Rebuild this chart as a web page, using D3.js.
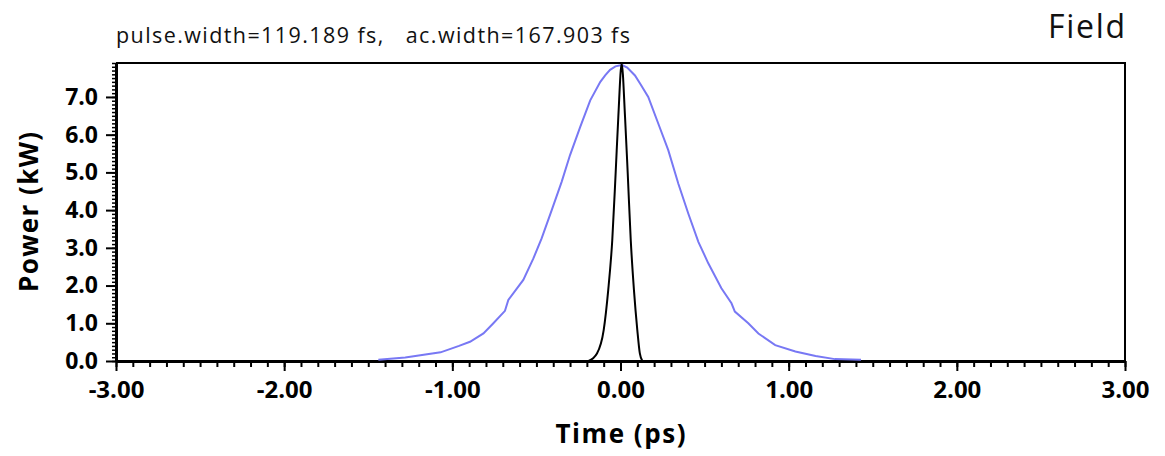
<!DOCTYPE html>
<html>
<head>
<meta charset="utf-8">
<script src="https://cdn.jsdelivr.net/npm/d3@7"></script>
<style>
  body { margin: 0; background: #fff; }
  svg { display: block; font-family: "Open Sans", "Noto Sans", sans-serif; }
</style>
</head>
<body>
<div id="chart"></div>
<script>
// Autocorrelation trace (blue)
const acTime  = [-1.44, -1.28, -1.19, -1.07, -0.96, -0.895, -0.815, -0.756, -0.687, -0.667,
                 -0.578, -0.518, -0.469, -0.409, -0.35, -0.30, -0.24, -0.18, -0.12, -0.09,
                 -0.062, -0.03, 0.0, 0.007, 0.04, 0.086, 0.12, 0.165, 0.225, 0.284,
                 0.344, 0.403, 0.463, 0.522, 0.60, 0.66, 0.68, 0.76, 0.82, 0.92,
                 1.04, 1.16, 1.275, 1.43];
const acPower = [0.03, 0.09, 0.15, 0.23, 0.40, 0.51, 0.73, 1.00, 1.33, 1.62,
                 2.15, 2.72, 3.25, 4.00, 4.75, 5.46, 6.20, 6.91, 7.40, 7.58,
                 7.72, 7.81, 7.84, 7.85, 7.78, 7.57, 7.33, 7.00, 6.29, 5.59,
                 4.70, 3.91, 3.16, 2.59, 1.93, 1.53, 1.31, 1.00, 0.73, 0.42,
                 0.25, 0.13, 0.05, 0.03];

// Pulse (black)
const pulseTime  = [-0.19, -0.14, -0.10, -0.073, -0.049, -0.029, -0.013, 0.007,
                    0.027, 0.043, 0.061, 0.08, 0.10, 0.115, 0.13];
const pulsePower = [0.0, 0.2, 0.82, 1.88, 3.2, 4.97, 6.47, 7.88,
                    6.47, 4.97, 3.2, 1.88, 0.82, 0.2, 0.0];

const xTicks = [-3, -2, -1, 0, 1, 2, 3];
const yTicks = [0, 1, 2, 3, 4, 5, 6, 7];
const xDomain = [-3, 3];
const yDomain = [0, 7.9];

const titleText = "pulse.width=119.189 fs,\u00a0\u00a0 ac.width=167.903 fs";
const cornerText = "Field";

const width = 1165, height = 456;
const margin = { top: 63, right: 40, bottom: 95, left: 116 };
const font = "'Open Sans', 'Noto Sans', sans-serif";

const svg = d3.select("#chart").append("svg")
    .attr("width", width)
    .attr("height", height);

const x = d3.scaleLinear().domain(xDomain).range([margin.left, width - margin.right]);
const y = d3.scaleLinear().domain(yDomain).range([height - margin.bottom, margin.top]);

// frame: top and right
svg.append("path")
    .attr("d", `M${x(-3)},${y(7.9)}H${x(3)}V${y(0)}`)
    .attr("fill", "none")
    .attr("stroke", "#000")
    .attr("stroke-width", 2);

// minor ticks
const xMinor = d3.range(-30, 31).map(d => d / 10);
const yMinor = d3.range(0, 80).map(d => d / 10);

svg.append("g")
    .attr("transform", `translate(0,${y(0)})`)
    .call(d3.axisBottom(x).tickValues(xMinor).tickSize(6).tickFormat(""))
    .call(g => g.select(".domain").remove())
    .selectAll("line").attr("stroke-width", 2);

svg.append("g")
    .attr("transform", `translate(${x(-3)},0)`)
    .call(d3.axisLeft(y).tickValues(yMinor).tickSize(4).tickFormat(""))
    .call(g => g.select(".domain").remove())
    .selectAll("line").attr("stroke-width", 1.5);

// major axes (font set after the call, the axis writes its own)
const xAxis = svg.append("g")
    .attr("transform", `translate(0,${y(0)})`)
    .call(d3.axisBottom(x).tickValues(xTicks).tickSize(10).tickSizeOuter(0).tickPadding(10)
        .tickFormat(d => d.toFixed(2)))
    .attr("font-family", font);
xAxis.select(".domain").attr("stroke-width", 3);
xAxis.selectAll(".tick line").attr("stroke-width", 2);
xAxis.selectAll("text")
    .attr("fill", "#000")
    .style("font-size", "24px")
    .style("font-weight", "bold");

const yAxis = svg.append("g")
    .attr("transform", `translate(${x(-3)},0)`)
    .call(d3.axisLeft(y).tickValues(yTicks).tickSize(10).tickSizeOuter(0).tickPadding(8)
        .tickFormat(d => d.toFixed(1)))
    .attr("font-family", font);
yAxis.select(".domain").attr("stroke-width", 3);
yAxis.selectAll(".tick line").attr("stroke-width", 2);
yAxis.selectAll("text")
    .attr("fill", "#000")
    .style("font-size", "23px")
    .style("font-weight", "bold");

// curves
const acLine = d3.line()
    .x((d, i) => x(acTime[i]))
    .y(d => y(d));

svg.append("path")
    .datum(acPower)
    .attr("d", acLine)
    .attr("fill", "none")
    .attr("stroke", "#7878f4")
    .attr("stroke-width", 2);

const pulseLine = d3.line()
    .x((d, i) => x(pulseTime[i]))
    .y(d => y(d))
    .curve(d3.curveMonotoneX);

svg.append("path")
    .datum(pulsePower)
    .attr("d", pulseLine)
    .attr("fill", "none")
    .attr("stroke", "#000")
    .attr("stroke-width", 2);

// texts
svg.append("text")
    .attr("x", margin.left)
    .attr("y", 43)
    .attr("textLength", 514)
    .attr("lengthAdjust", "spacing")
    .style("font-size", "21.5px")
    .attr("fill", "#111")
    .text(titleText);

svg.append("text")
    .attr("x", x(3) - 77)
    .attr("y", 38)
    .attr("textLength", 77)
    .attr("lengthAdjust", "spacing")
    .style("font-size", "32px")
    .attr("fill", "#111")
    .text(cornerText);

svg.append("text")
    .attr("x", (x(-3) + x(3)) / 2 - 65)
    .attr("y", 443)
    .attr("textLength", 130)
    .attr("lengthAdjust", "spacing")
    .style("font-size", "26px")
    .style("font-weight", "bold")
    .text("Time (ps)");

svg.append("text")
    .attr("transform", `translate(38,292) rotate(-90)`)
    .attr("textLength", 160)
    .attr("lengthAdjust", "spacing")
    .style("font-size", "26px")
    .style("font-weight", "bold")
    .text("Power (kW)");
</script>
</body>
</html>
